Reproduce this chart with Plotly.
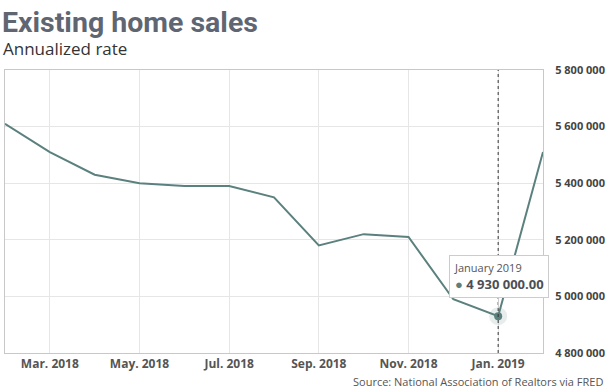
import plotly.graph_objects as go

months = ["Feb. 2018", "Mar. 2018", "Apr. 2018", "May. 2018", "Jun. 2018", "Jul. 2018",
          "Aug. 2018", "Sep. 2018", "Oct. 2018", "Nov. 2018", "Dec. 2018", "Jan. 2019", "Feb. 2019"]
month_full = ["February 2018", "March 2018", "April 2018", "May 2018", "June 2018", "July 2018",
              "August 2018", "September 2018", "October 2018", "November 2018", "December 2018",
              "January 2019", "February 2019"]
sales = [5610000, 5510000, 5430000, 5400000, 5390000, 5390000,
         5350000, 5180000, 5220000, 5210000, 4990000, 4930000, 5510000]
tick_months = ["Mar. 2018", "May. 2018", "Jul. 2018", "Sep. 2018", "Nov. 2018", "Jan. 2019"]
y_ticks = [4800000, 5000000, 5200000, 5400000, 5600000, 5800000]
hl = 11  # highlighted point (January 2019)

LINE = "#5b817e"

fig = go.Figure()
fig.add_trace(go.Scatter(x=months, y=sales, mode="lines",
                         line=dict(color=LINE, width=2), hoverinfo="skip"))
fig.add_trace(go.Scatter(x=[months[hl]], y=[sales[hl]], mode="markers",
                         marker=dict(size=18, color="rgba(91,129,126,0.15)"), hoverinfo="skip"))
fig.add_trace(go.Scatter(x=[months[hl]], y=[sales[hl]], mode="markers",
                         marker=dict(size=8, color=LINE), hoverinfo="skip"))

fig.add_shape(type="line", xref="x", yref="paper", x0=months[hl], x1=months[hl], y0=0, y1=1,
              line=dict(color="#333", width=1, dash="dot"), layer="above")

val_txt = f"{sales[hl]:,.2f}".replace(",", " ")
fig.add_annotation(x=months[hl], y=sales[hl], xref="x", yref="y",
                   text=f"<span style='font-size:11px;color:#555'>{month_full[hl]}</span><br>"
                        f"<span style='color:{LINE}'>●</span> <b>{val_txt}</b>",
                   align="left", showarrow=True, arrowhead=0, arrowwidth=1, arrowcolor="#cccccc",
                   ax=1, ay=-40, standoff=8,
                   bgcolor="white", bordercolor="#cccccc", borderwidth=1, borderpad=4,
                   font=dict(family="Open Sans", size=13, color="#4a4f57"))

fig.add_annotation(text="<b>Existing home sales</b>", xref="paper", yref="paper",
                   x=-0.01, y=1, yshift=48, xanchor="left", yanchor="middle", showarrow=False,
                   font=dict(family="Roboto", size=28.5, color="#5f6672"))
fig.add_annotation(text="Annualized rate", xref="paper", yref="paper",
                   x=-0.008, y=1, yshift=22, xanchor="left", yanchor="middle", showarrow=False,
                   font=dict(family="Open Sans", size=17, color="#333"))
fig.add_annotation(text="Source: National Association of Realtors via FRED", xref="paper", yref="paper",
                   x=1, xshift=62, y=0, yshift=-28, xanchor="right", yanchor="middle", showarrow=False,
                   font=dict(family="Open Sans", size=11, color="#555"))

fig.update_layout(
    width=608, height=392,
    margin=dict(l=5, r=65, t=70, b=39, autoexpand=False),
    paper_bgcolor="white", plot_bgcolor="white",
    showlegend=False,
    separators=". ",
    xaxis=dict(type="category", range=[0, len(months) - 1], tickmode="array",
               tickvals=tick_months, ticktext=tick_months, automargin=False,
               showgrid=True, gridcolor="#e6e6e6", gridwidth=1,
               showline=True, linecolor="#c8c8c8", linewidth=1, mirror=True,
               ticks="", tickfont=dict(family="Open Sans", size=12, color="#555", weight="bold")),
    yaxis=dict(side="right", range=[4800000, 5800000], tickvals=y_ticks, tickformat=",d",
               automargin=False,
               showgrid=True, gridcolor="#e6e6e6", gridwidth=1, zeroline=False,
               showline=True, linecolor="#c8c8c8", linewidth=1, mirror=True,
               ticks="", ticklabelstandoff=9,
               tickfont=dict(family="Open Sans", size=11, color="#444", weight="bold")),
)

fig.write_html("out.html", config={"displayModeBar": False},
               post_script="document.body.style.margin='0';")
